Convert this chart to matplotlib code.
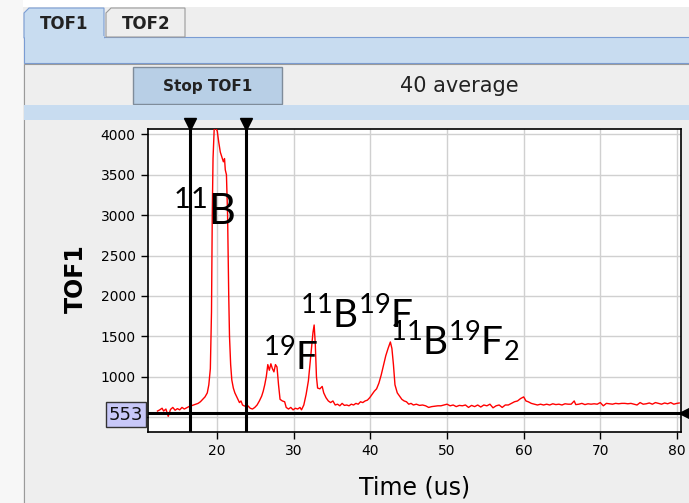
#!/usr/env/python
import numpy as np
import matplotlib as mpl
mpl.use('Agg')
from matplotlib import pyplot as plt
from matplotlib.patches import Rectangle, Polygon
from matplotlib.transforms import Affine2D, blended_transform_factory

## screenshot size in pixels
W, H = 689, 503

## trace
time_us = [12.2, 12.5, 12.8, 13.0, 13.3, 13.6, 13.9, 14.2, 14.5, 14.8,
           15.1, 15.4, 15.7, 16.0, 16.3, 16.6, 16.9, 17.2, 17.5, 17.8,
           18.1, 18.4, 18.7, 18.9, 19.1, 19.25, 19.35, 19.45, 19.6, 19.8,
           20.0, 20.2, 20.4, 20.6, 20.8, 20.95, 21.05, 21.2, 21.35, 21.5,
           21.6, 21.75, 21.9, 22.1, 22.3, 22.5, 22.7, 22.9, 23.1, 23.3,
           23.5, 23.8, 24.0, 24.3, 24.6, 24.9, 25.2, 25.5, 25.8, 26.0,
           26.2, 26.4, 26.6, 26.8, 27.0, 27.2, 27.4, 27.6, 27.8, 28.0,
           28.2, 28.5, 28.8, 29.0, 29.3, 29.6, 29.9, 30.2, 30.5, 30.8,
           31.0, 31.3, 31.6, 31.9, 32.1, 32.3, 32.5, 32.65, 32.8, 32.95,
           33.1, 33.4, 33.7, 33.9, 34.2, 34.5, 34.8, 35.1, 35.4, 35.7,
           36.0, 36.3, 36.6, 36.9, 37.2, 37.5, 37.8, 38.1, 38.4, 38.7,
           39.0, 39.3, 39.6, 39.9, 40.2, 40.5, 40.8, 41.1, 41.4, 41.7,
           42.0, 42.3, 42.6, 42.8, 43.0, 43.2, 43.5, 43.8, 44.1, 44.4,
           44.7, 45.0, 45.3, 45.6, 46.0, 46.4, 46.8, 47.2, 47.6, 48.0,
           48.4, 48.8, 49.2, 49.6, 50.0, 50.4, 50.8, 51.2, 51.6, 52.0,
           52.4, 52.8, 53.2, 53.6, 54.0, 54.4, 54.8, 55.2, 55.6, 56.0,
           56.4, 56.8, 57.2, 57.6, 58.0, 58.4, 58.8, 59.2, 59.6, 60.0,
           60.3, 60.6, 61.0, 61.4, 61.8, 62.2, 62.6, 63.0, 63.4, 63.8,
           64.2, 64.6, 65.0, 65.4, 65.8, 66.2, 66.6, 66.8, 67.2, 67.6,
           68.0, 68.4, 68.8, 69.2, 69.6, 70.0, 70.4, 70.8, 71.2, 71.6,
           72.0, 72.4, 72.8, 73.2, 73.6, 74.0, 74.4, 74.8, 75.2, 75.6,
           76.0, 76.4, 76.8, 77.2, 77.6, 78.0, 78.4, 78.8, 79.2, 79.6,
           80.0, 80.3]
tof1 = [575, 590, 610, 575, 600, 510, 595, 620, 585, 605,
        590, 620, 600, 615, 630, 640, 650, 660, 670, 690,
        720, 750, 800, 900, 1100, 1800, 3000, 3700, 4060, 4080,
        4040, 3900, 3780, 3720, 3660, 3700, 3560, 3500, 3000, 2000,
        1500, 1150, 960, 860, 800, 760, 720, 680, 700, 650,
        640, 630, 640, 610, 600, 620, 650, 700, 760, 820,
        900, 1000, 1150, 1080, 1160, 1100, 1060, 1150, 1120, 900,
        720, 700, 690, 620, 600, 620, 590, 610, 600, 620,
        590, 650, 780, 950, 1150, 1350, 1550, 1640, 1400, 1000,
        860, 850, 880, 800, 740, 700, 680, 700, 650, 660,
        640, 670, 645, 650, 640, 660, 650, 670, 660, 690,
        680, 700, 710, 740, 780, 820, 850, 920, 1020, 1140,
        1260, 1350, 1430, 1350, 1150, 900, 800, 760, 720, 700,
        690, 660, 670, 650, 660, 645, 650, 640, 620, 630,
        635, 640, 640, 650, 660, 640, 650, 630, 645, 640,
        650, 620, 645, 630, 650, 625, 650, 640, 660, 615,
        640, 650, 620, 650, 650, 670, 690, 700, 730, 750,
        700, 690, 670, 660, 650, 660, 650, 660, 650, 665,
        655, 660, 650, 665, 660, 660, 700, 655, 660, 670,
        655, 665, 660, 665, 660, 680, 640, 670, 665, 660,
        670, 665, 670, 670, 665, 670, 660, 650, 680, 660,
        665, 675, 660, 680, 670, 660, 675, 665, 680, 660,
        670, 675]

x_ticks = [20, 30, 40, 50, 60, 70, 80]
y_ticks = [500, 1000, 1500, 2000, 2500, 3000, 3500, 4000]
cursor_x = [16.43, 23.7]
level = 553

peak_labels = [r'$^{11}$B', r'$^{19}$F', r'$^{11}$B$^{19}$F', r'$^{11}$B$^{19}$F$_2$']
peak_x = [14.21, 25.97, 30.80, 42.57]
peak_y = [2880, 1087, 1606, 1272]
peak_size = [30, 28, 28, 28]


def main():
    plt.rcParams['mathtext.default'] = 'regular'
    fig = plt.figure(figsize=(W/100, H/100), dpi=100)
    fig.patch.set_facecolor('#eeeeee')

    ## pixel coordinates of the screenshot, origin top-left
    pxT = Affine2D().scale(1.0/W, -1.0/H).translate(0, 1) + fig.transFigure

    def rect(x0, y0, x1, y1, fc, ec='none', lw=1.0, z=-1):
        fig.add_artist(Rectangle((x0, y0), x1-x0, y1-y0, transform=pxT,
                                 facecolor=fc, edgecolor=ec, linewidth=lw,
                                 zorder=z))

    ## window chrome
    rect(0, 0, W, 7, 'white')
    rect(0, 0, 23, H, '#f7f7f7')
    rect(24, 37, W+2, 63, '#c8dcf0', '#7a9cd3', 0.8)
    fig.add_artist(Polygon([(106, 37), (106, 13), (111, 8), (185, 8), (185, 37)],
                           closed=True, transform=pxT, facecolor='#eeeeee',
                           edgecolor='#9a9a9a', linewidth=0.8, zorder=-1))
    fig.add_artist(Polygon([(24, 38), (24, 13), (29, 8), (104, 8), (104, 38)],
                           closed=True, transform=pxT, facecolor='#c8dcf0',
                           edgecolor='#7a9cd3', linewidth=0.8, zorder=-1))
    rect(24.5, 36, 103.5, 40, '#c8dcf0')
    fig.text(64, 24, 'TOF1', transform=pxT, ha='center', va='center',
             fontsize=12, fontweight='bold', color='#222222')
    fig.text(146, 24, 'TOF2', transform=pxT, ha='center', va='center',
             fontsize=12, fontweight='bold', color='#222222')
    rect(23.5, 64, W+2, H+2, '#eeeeee', '#9a9a9a', 0.8)
    rect(133, 67, 282, 104, '#b8cfe6', '#7f8c9a', 1.0)
    fig.text(208, 86, 'Stop TOF1', transform=pxT, ha='center', va='center',
             fontsize=11, fontweight='bold', color='#222222')
    fig.text(459, 86, '40 average', transform=pxT, ha='center', va='center',
             fontsize=15, color='#222222')
    rect(24, 105, W+2, 120, '#c8dcf0')

    ## plot
    ax = fig.add_axes([148.3/W, 1-431.5/H, (680.7-148.3)/W, (431.5-129.3)/H])
    ax.set_facecolor('white')
    ax.plot(time_us, tof1, color='red', lw=1.0, zorder=3)
    for cx in cursor_x:
        ax.axvline(cx, color='black', lw=2.2, zorder=4)
        ax.plot([cx], [1.016], marker='v', color='black', markersize=8,
                transform=ax.get_xaxis_transform(), clip_on=False, zorder=5)
    ax.axhline(level, color='black', lw=2.2, zorder=4)
    ax.plot([1.009], [level], marker='<', color='black', markersize=8,
            transform=blended_transform_factory(ax.transAxes, ax.transData),
            clip_on=False, zorder=5)

    ax.set_xlim(11, 80.5)
    ax.set_ylim(322, 4062)
    ax.set_xticks(x_ticks)
    ax.set_yticks(y_ticks)
    ax.set_yticklabels([''] + [str(v) for v in y_ticks[1:]])
    ax.grid(True, color='#d0d0d0', lw=1.0)
    ax.set_axisbelow(True)
    ax.tick_params(direction='out', length=5, width=1, labelsize=10,
                   colors='black', pad=4)
    for s in ax.spines.values():
        s.set_color('black')
        s.set_linewidth(1.2)

    for lab, lx, ly, fs in zip(peak_labels, peak_x, peak_y, peak_size):
        ax.text(lx, ly, lab, fontsize=fs, family='Lato', ha='left',
                va='baseline', color='black', zorder=6)

    ## cursor level box
    rect(106, 402, 146, 427, '#c8c8f8', '#333333', 1.0, z=5)
    fig.text(126, 415, str(level), transform=pxT, ha='center', va='center',
             fontsize=13, color='#111111', zorder=6)

    fig.text(76, 279, 'TOF1', transform=pxT, ha='center', va='center',
             rotation=90, fontsize=17, fontweight='bold')
    fig.text(415, 488, 'Time (us)', transform=pxT, ha='center', va='center',
             fontsize=17)

    plt.savefig('out.png', dpi=100)


if __name__ == '__main__':
    main()
